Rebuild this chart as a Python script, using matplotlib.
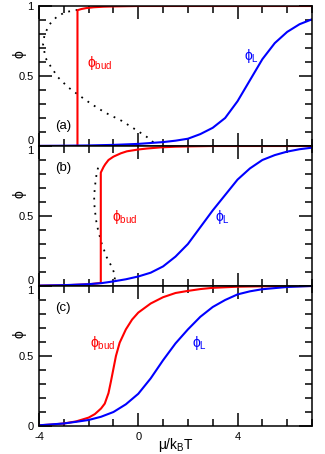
import numpy as np
import matplotlib
matplotlib.use('Agg')
import matplotlib.pyplot as plt
from matplotlib.ticker import MultipleLocator

plt.rcParams['font.family'] = ['Liberation Sans', 'DejaVu Sans']
plt.rcParams['mathtext.fontset'] = 'custom'
plt.rcParams['mathtext.rm'] = 'Liberation Sans'
plt.rcParams['mathtext.it'] = 'Liberation Sans:italic'
plt.rcParams['axes.unicode_minus'] = False

# panel (a)
a_x_L = [-4, -3, -2, -1, 0, 1, 1.5, 2, 2.5, 3, 3.5, 4, 4.5, 5, 5.5, 6, 6.5, 7]
a_phi_L = [0.001, 0.002, 0.004, 0.008, 0.015, 0.028, 0.038, 0.052, 0.085, 0.13, 0.2, 0.32,
           0.47, 0.62, 0.735, 0.815, 0.87, 0.905]
a_x_bud = [-4, -2.45, -2.45, -2.3, -2.1, -1.8, -1.4, -1.0, 0, 7]
a_phi_bud = [0.0, 0.0, 0.97, 0.978, 0.985, 0.991, 0.995, 0.997, 1.0, 1.0]
a_x_dot = [-2.45, -2.6, -2.96, -3.3, -3.57, -3.77, -3.84, -3.74, -3.5, -3.23, -2.83, -2.45,
           -1.89, -1.35, -0.67, 0.0, 0.35, 0.61]
a_phi_dot = [0.972, 0.968, 0.955, 0.92, 0.87, 0.80, 0.73, 0.63, 0.56, 0.49, 0.42, 0.37,
             0.30, 0.24, 0.18, 0.105, 0.064, 0.026]

# panel (b)
b_x_L = [-4, -3, -2, -1.5, -1, -0.5, 0, 0.5, 1, 1.5, 2, 2.5, 3, 3.5, 4, 4.5, 5, 5.5, 6, 6.5, 7]
b_phi_L = [0.003, 0.006, 0.013, 0.02, 0.033, 0.048, 0.068, 0.095, 0.14, 0.21, 0.30, 0.42,
           0.54, 0.65, 0.76, 0.84, 0.90, 0.935, 0.96, 0.977, 0.988]
b_x_bud = [-4, -3, -2, -1.51, -1.51, -1.4, -1.33, -1.2, -1.0, -0.7, -0.46, 0, 0.35, 0.89,
           1.5, 2, 3, 7]
b_phi_bud = [0.002, 0.005, 0.012, 0.022, 0.81, 0.85, 0.87, 0.90, 0.924, 0.948, 0.962, 0.975,
             0.982, 0.99, 0.995, 0.997, 1.0, 1.0]
b_x_dot = [-1.62, -1.68, -1.74, -1.78, -1.76, -1.70, -1.62, -1.47, -1.27, -1.06, -0.93,
           -0.95, -1.0]
b_phi_dot = [0.845, 0.80, 0.72, 0.64, 0.56, 0.47, 0.40, 0.30, 0.205, 0.134, 0.074, 0.05, 0.035]

# panel (c)
c_x_L = [-4, -3, -2.5, -2, -1.5, -1, -0.5, 0, 0.5, 1, 1.5, 2, 2.5, 3, 3.5, 4, 4.5, 5, 6, 7]
c_phi_L = [0.005, 0.018, 0.03, 0.043, 0.066, 0.10, 0.155, 0.23, 0.34, 0.47, 0.59, 0.69,
           0.78, 0.85, 0.90, 0.94, 0.962, 0.977, 0.993, 1.0]
c_x_bud = [-4, -3.5, -3, -2.5, -2, -1.75, -1.5, -1.35, -1.2, -1.1, -1.0, -0.9, -0.75, -0.5,
           -0.25, 0, 0.5, 1, 1.5, 2, 2.5, 3, 4, 5, 7]
c_phi_bud = [0.005, 0.01, 0.018, 0.033, 0.06, 0.085, 0.125, 0.16, 0.235, 0.32, 0.41, 0.50,
             0.595, 0.69, 0.76, 0.81, 0.875, 0.92, 0.95, 0.965, 0.978, 0.987, 0.995, 0.998, 1.0]

panels = [
    dict(xL=a_x_L, yL=a_phi_L, xb=a_x_bud, yb=a_phi_bud, xd=a_x_dot, yd=a_phi_dot,
         tag='(a)', tag_pos=(-3.35, 0.14), bud_pos=(-2.06, 0.59), L_pos=(4.24, 0.64)),
    dict(xL=b_x_L, yL=b_phi_L, xb=b_x_bud, yb=b_phi_bud, xd=b_x_dot, yd=b_phi_dot,
         tag='(b)', tag_pos=(-3.35, 0.846), bud_pos=(-1.05, 0.49), L_pos=(3.11, 0.49)),
    dict(xL=c_x_L, yL=c_phi_L, xb=c_x_bud, yb=c_phi_bud, xd=None, yd=None,
         tag='(c)', tag_pos=(-3.35, 0.846), bud_pos=(-1.94, 0.59), L_pos=(2.18, 0.59)),
]

fig = plt.figure(figsize=(3.25, 4.54), dpi=100)
h = 140 / 454
bottoms = [308 / 454, 168 / 454, 28 / 454]

for i, p in enumerate(panels):
    ax = fig.add_axes([39 / 325, bottoms[i], 273 / 325, h])
    if p['xd'] is not None:
        ax.plot(p['xd'], p['yd'], color='black', lw=1.3, ls=(0, (1, 3.2)))
    ax.plot(p['xb'], p['yb'], color='#ff0000', lw=1.5)
    ax.plot(p['xL'], p['yL'], color='#0000ff', lw=1.5)

    ax.set_xlim(-4, 7)
    ax.set_ylim(0, 1)
    ax.xaxis.set_major_locator(MultipleLocator(4))
    ax.xaxis.set_minor_locator(MultipleLocator(1))
    ax.set_yticks([0, 0.5, 1])
    ax.set_yticklabels(['0', '0.5', '1'])
    ax.yaxis.set_minor_locator(MultipleLocator(0.1))
    ax.tick_params(which='both', direction='in', top=True, right=True, width=1.1,
                   labelsize=8, pad=4)
    ax.tick_params(which='major', length=9.5)
    ax.tick_params(which='minor', length=5)
    for s in ax.spines.values():
        s.set_linewidth(1.1)

    labs = ax.get_yticklabels()
    if i < 2:
        labs[0].set_va('bottom')
    if i > 0:
        labs[2].set_va('top')

    if i < 2:
        ax.tick_params(labelbottom=False)
    else:
        ax.set_xlabel(r'$\mathrm{\mu/k_BT}$', fontsize=10)
        ax.xaxis.set_label_coords(0.5, -0.075)

    ax.set_ylabel('ϕ', fontsize=10, rotation=90)
    ax.yaxis.set_label_coords(-0.045, 0.66)

    ax.text(*p['tag_pos'], p['tag'], fontsize=9.5, va='center', ha='left')
    ax.text(*p['bud_pos'], r'$\mathrm{ϕ_{bud}}$', fontsize=10, color='#ff0000',
            va='center', ha='left')
    ax.text(*p['L_pos'], r'$\mathrm{ϕ_{L}}$', fontsize=10, color='#0000ff',
            va='center', ha='left')

fig.savefig('out.png', dpi=100)
